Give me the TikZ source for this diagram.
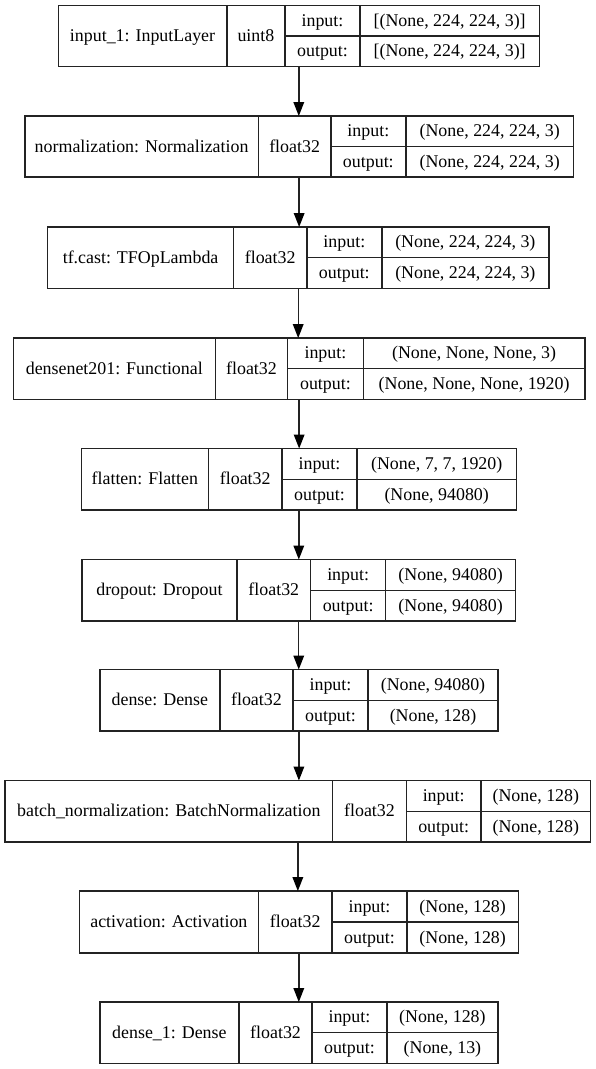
\documentclass[tikz,border=0pt]{standalone}
\usepackage{fontspec}
\setmainfont{Liberation Serif}
\definecolor{linec}{RGB}{35,35,35}
\newcommand\layerbox[8]{%
  \node[box, minimum width={#8-#4}, minimum height={#3-#2}] (#1) at ({(#4+#8)/2},{(#2+#3)/2}) {};
  \draw[divider] (#5,#2) -- (#5,#3) (#6,#2) -- (#6,#3) (#7,#2) -- (#7,#3) (#6,{(#2+#3)/2}) -- (#8,{(#2+#3)/2});
  \coordinate (#1-l) at ({(#4+#5)/2},{(#2+#3)/2});
  \coordinate (#1-d) at ({(#5+#6)/2},{(#2+#3)/2});
  \coordinate (#1-i) at ({(#6+#7)/2},{(3*#2+#3)/4});
  \coordinate (#1-o) at ({(#6+#7)/2},{(#2+3*#3)/4});
  \coordinate (#1-vi) at ({(#7+#8)/2},{(3*#2+#3)/4});
  \coordinate (#1-vo) at ({(#7+#8)/2},{(#2+3*#3)/4});
}
\newcommand\layertext[5]{%
  \node[txt] (#1-lab) at (#1-l) {#2};
  \node[txt] (#1-dt) at (#1-d) {#3};
  \node[txt] (#1-in) at (#1-i) {input:};
  \node[txt] (#1-out) at (#1-o) {output:};
  \node[txt] (#1-vin) at (#1-vi) {#4};
  \node[txt] (#1-vout) at (#1-vo) {#5};
}
\begin{document}
\begin{tikzpicture}[x=1pt,y=-1pt,
  box/.style={draw=linec, line width=1.4pt, rectangle, inner sep=0pt, outer sep=0pt},
  divider/.style={draw=linec, line width=1.4pt},
  txt/.style={font=\fontsize{17.9}{20}\selectfont, inner sep=0pt, anchor=base, yshift=-5.5pt, text=black},
  conn/.style={draw=linec, line width=1.4pt},
  head/.style={fill=black}]
\fill[white] (0,0) rectangle (596,1069);
\useasboundingbox (0,0) rectangle (596,1069);

\layerbox{L1}{5.5}{66.5}{58.3}{226.8}{285}{360}{539.3}
\layertext{L1}{input\_1: InputLayer}{uint8}{[(None, 224, 224, 3)]}{[(None, 224, 224, 3)]}

\layerbox{L2}{116}{177}{24.8}{258.4}{330.8}{405.9}{573.5}
\layertext{L2}{normalization: Normalization}{float32}{(None, 224, 224, 3)}{(None, 224, 224, 3)}

\layerbox{L3}{227}{288.5}{47.6}{233.6}{306.8}{381.9}{548.8}
\layertext{L3}{tf.cast: TFOpLambda}{float32}{(None, 224, 224, 3)}{(None, 224, 224, 3)}

\layerbox{L4}{338}{399.5}{13.3}{215.3}{287.7}{363.2}{585}
\layertext{L4}{densenet201: Functional}{float32}{(None, None, None, 3)}{(None, None, None, 1920)}

\layerbox{L5}{448.5}{510}{81.2}{208.5}{282}{357}{516.4}
\layertext{L5}{flatten: Flatten}{float32}{(None, 7, 7, 1920)}{(None, 94080)}

\layerbox{L6}{559.5}{621}{81.9}{237}{310.6}{385.7}{515.6}
\layertext{L6}{dropout: Dropout}{float32}{(None, 94080)}{(None, 94080)}

\layerbox{L7}{669.5}{731}{99.8}{219.9}{293}{368}{498}
\layertext{L7}{dense: Dense}{float32}{(None, 94080)}{(None, 128)}

\layerbox{L8}{780.5}{842}{5}{332.7}{406.3}{481}{590.7}
\layertext{L8}{batch\_normalization: BatchNormalization}{float32}{(None, 128)}{(None, 128)}

\layerbox{L9}{891}{953}{79.3}{258.4}{332}{407}{518.3}
\layertext{L9}{activation: Activation}{float32}{(None, 128)}{(None, 128)}

\layerbox{L10}{1002}{1063.5}{99.8}{239}{312.1}{386.8}{498}
\layertext{L10}{dense\_1: Dense}{float32}{(None, 128)}{(None, 13)}

\foreach \a/\b in {L1/L2,L2/L3,L3/L4,L4/L5,L5/L6,L6/L7,L7/L8,L8/L9,L9/L10}{
  \coordinate (\a-tip) at (\a.south |- \b.north);
  \draw[conn] (\a.south) -- ([yshift=12pt]\a-tip);
  \fill[head] (\a-tip) -- ++(-5.5,-14) -- ++(11,0) -- cycle;
}
\end{tikzpicture}
\end{document}
